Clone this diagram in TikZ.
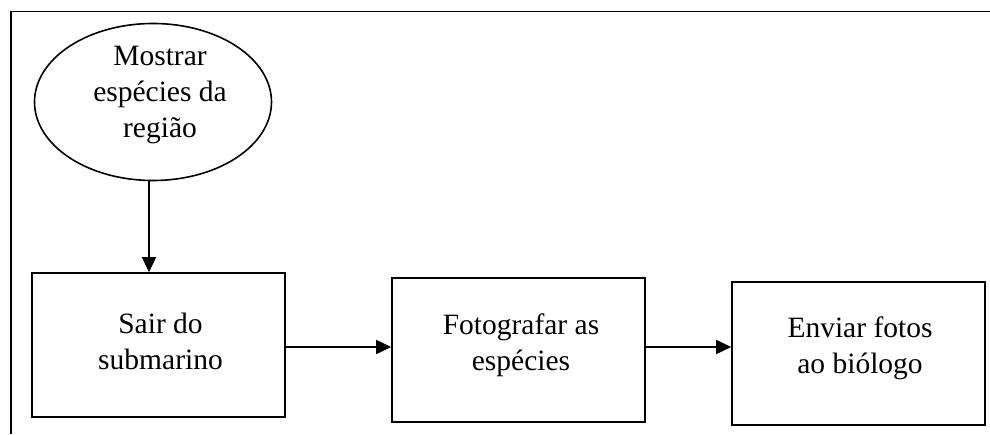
\documentclass[tikz,border=0pt]{standalone}
\usepackage{fontspec}
\setmainfont{Liberation Serif}
\usetikzlibrary{shapes.geometric,arrows.meta}
\begin{document}
\begin{tikzpicture}[x=1pt,y=1pt,
  line width=1.6pt,
  stepbox/.style={draw, rectangle, inner sep=0pt, minimum width=253pt, minimum height=144pt},
  startoval/.style={draw, ellipse, inner sep=0pt, minimum width=237pt, minimum height=157pt},
  txt/.style={align=center, inner sep=0pt, font=\fontsize{29.5pt}{36pt}\selectfont},
  arr/.style={-{Triangle[length=15pt,width=14pt]}}]
\useasboundingbox (0,0) rectangle (990,434);
% frame (top and left edges)
\draw (990,422.5) -- (11,422.5) -- (11,0);
% shapes
\node[startoval] (start) at (153,332) {};
\node[stepbox] (sair) at (158.5,89) {};
\node[stepbox] (foto) at (518.5,84) {};
\node[stepbox, minimum height=143pt] (envio) at (858.5,80.5) {};
% labels
\node[txt] (tstart) at (160,339) {Mostrar\\espécies da\\região};
\node[txt] (tsair) at (160.5,93) {Sair do\\submarino};
\node[txt] (tfoto) at (521,88.3) {Fotografar as\\espécies};
\node[txt] (tenvio) at (860,86) {Enviar fotos\\ao biólogo};
% connectors
\draw[arr] ([xshift=-4pt]start.south) -- ([xshift=-4pt]start.south |- sair.north);
\draw[arr] ([yshift=-2pt]sair.east) -- ([yshift=-2pt]sair.east -| foto.west);
\draw[arr] ([yshift=3pt]foto.east) -- ([yshift=3pt]foto.east -| envio.west);
\end{tikzpicture}
\end{document}
